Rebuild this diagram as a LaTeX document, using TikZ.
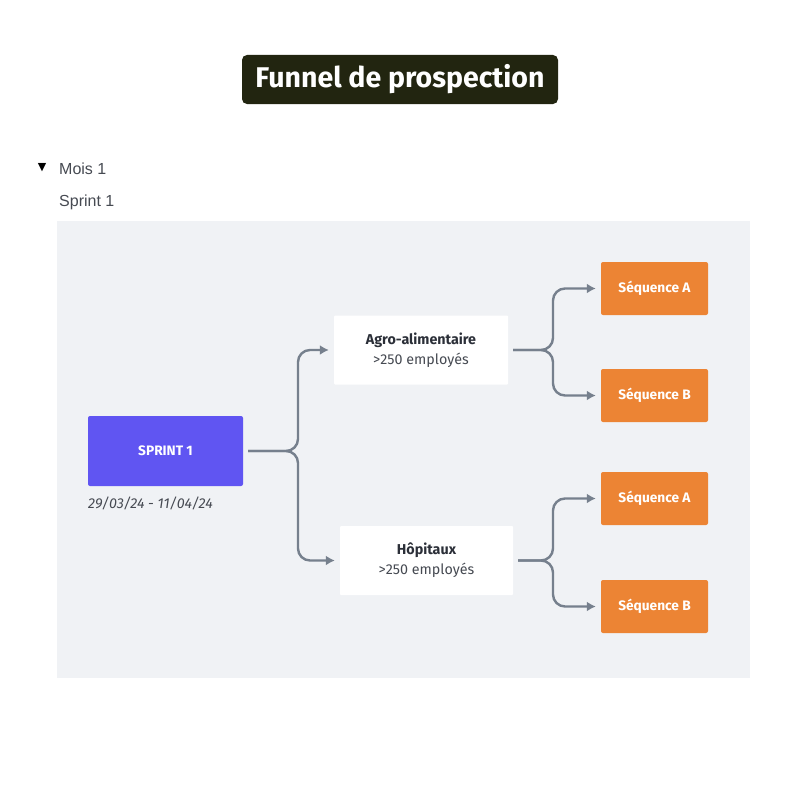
\documentclass[tikz,border=0pt]{standalone}
\usepackage{fontspec}
\setmainfont{Fira Sans}
\newfontfamily\uifont{Liberation Sans}
\newfontfamily\symfont{DejaVu Sans}
\usetikzlibrary{arrows.meta}
\definecolor{titlebg}{RGB}{34,37,16}
\definecolor{panelbg}{RGB}{240,242,245}
\definecolor{sprintc}{RGB}{96,85,242}
\definecolor{seqc}{RGB}{236,132,52}
\definecolor{linkc}{RGB}{118,128,141}
\definecolor{inkc}{RGB}{43,47,56}
\definecolor{greyc}{RGB}{70,74,82}
\tikzset{
  seqbox/.style={fill=seqc, rounded corners=2pt, minimum width=107pt, minimum height=53pt,
    text=white, font=\fontsize{13.7}{16}\selectfont\bfseries},
  segbox/.style={fill=white, rounded corners=1pt, minimum height=69pt, align=center,
    text=greyc, font=\fontsize{14.3}{20}\selectfont},
  link/.style={draw=linkc, line width=2.4pt, rounded corners=12pt,
    -{Latex[length=9pt,width=10pt]}, shorten >=5pt}
}
\begin{document}
\begin{tikzpicture}[x=1pt,y=-1pt]
  \useasboundingbox (0,0) rectangle (800,800);
  \fill[white] (0,0) rectangle (800,800);
  \node[fill=titlebg, rounded corners=5pt, minimum width=316pt, minimum height=49pt,
    text=white, font=\fontsize{28.5}{32}\selectfont\bfseries] (title) at (400,79.5) {Funnel de prospection};
  \node[text=black, font=\symfont\fontsize{11}{12}\selectfont] (tri) at (42,168) {▼};
  \node[anchor=west, inner sep=0pt, text=greyc, font=\uifont\fontsize{16}{18}\selectfont] (mois) at (59,169) {Mois 1};
  \node[anchor=west, inner sep=0pt, text=greyc, font=\uifont\fontsize{16}{18}\selectfont] (sprint) at (59,202) {Sprint 1};
  \fill[panelbg] (57,221) rectangle (750,678);
  \node[fill=sprintc, rounded corners=2pt, minimum width=155pt, minimum height=70pt,
    text=white, font=\fontsize{13.7}{16}\selectfont\bfseries] (s1) at (165.5,451) {SPRINT 1};
  \node[anchor=west, inner sep=0pt, text=greyc, font=\fontsize{14.3}{16}\selectfont\itshape] (dates) at (88,503) {29/03/24 - 11/04/24};
  \node[segbox, minimum width=174pt] (agro) at (421,350) {\textcolor{inkc}{\bfseries Agro-alimentaire}\\>250 employés};
  \node[segbox, minimum width=173pt] (hopi) at (426.5,560.5) {\textcolor{inkc}{\bfseries Hôpitaux}\\>250 employés};
  \node[seqbox] (agroA) at (654.5,288.5) {Séquence A};
  \node[seqbox] (agroB) at (654.5,395.5) {Séquence B};
  \node[seqbox] (hopiA) at (654.5,498.5) {Séquence A};
  \node[seqbox] (hopiB) at (654.5,606.5) {Séquence B};
  \coordinate (j1) at (298,451);
  \coordinate (j2) at (553,350);
  \coordinate (j3) at (553,560.5);
  \begin{scope}
    \draw[link] ([xshift=5pt]s1.east) -- (j1) |- (agro.west);
    \draw[link] ([xshift=5pt]s1.east) -- (j1) |- (hopi.west);
    \draw[link] ([xshift=5pt]agro.east) -- (j2) |- (agroA.west);
    \draw[link] ([xshift=5pt]agro.east) -- (j2) |- (agroB.west);
    \draw[link] ([xshift=5pt]hopi.east) -- (j3) |- (hopiA.west);
    \draw[link] ([xshift=5pt]hopi.east) -- (j3) |- (hopiB.west);
  \end{scope}
\end{tikzpicture}
\end{document}
